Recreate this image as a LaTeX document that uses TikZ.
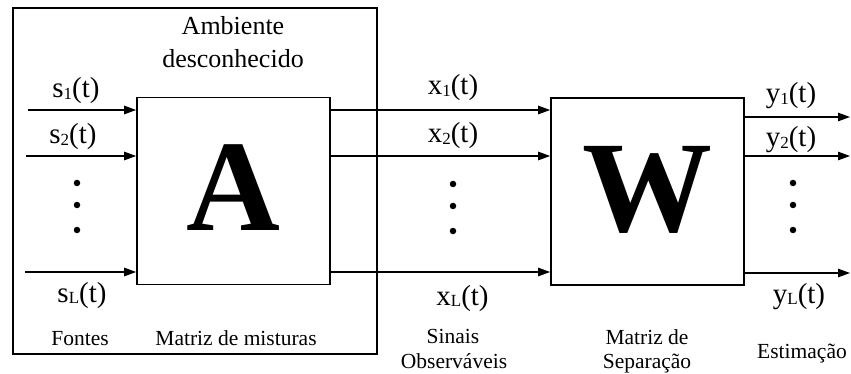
\documentclass[tikz,border=0pt]{standalone}
\usepackage{fontspec}
\setmainfont{Liberation Serif}
\usetikzlibrary{arrows.meta}
\newcommand{\sig}[2]{#1\raisebox{-1.5pt}{\fontsize{17}{17}\selectfont #2}(t)}
\tikzset{
  sigtxt/.style={anchor=base, inner sep=0pt, font=\fontsize{29}{29}\selectfont},
  lbltxt/.style={anchor=base, inner sep=0pt, font=\fontsize{21.5}{21.5}\selectfont},
  bigtxt/.style={anchor=base, inner sep=0pt, font=\fontsize{130}{130}\selectfont\bfseries},
  blk/.style={draw, line width=1.8pt},
  sigarrow/.style={line width=1.2pt, -{Triangle[length=12pt,width=8.5pt]}},
  sigline/.style={line width=1.2pt},
  dot/.style={circle, fill, inner sep=0pt, minimum size=6.5pt}
}
\begin{document}
\begin{tikzpicture}[x=1pt,y=-1pt]
\useasboundingbox (0,0) rectangle (851,374);
% outer environment box
\draw[line width=1.4pt] (13,8) rectangle (377,354);
% blocks
\node[blk, minimum width=193pt, minimum height=187pt, inner sep=0pt] (A) at (233.5,191) {};
\node[blk, minimum width=193pt, minimum height=187pt, inner sep=0pt] (W) at (647.5,191.5) {};
\node[bigtxt] (Aletter) at (233,230) {A};
\node[bigtxt] (Wletter) at (647,232) {W};
% input start points
\coordinate (s1s) at (28,110);
\coordinate (s2s) at (26,156);
\coordinate (sLs) at (25,272);
\draw[sigarrow] (s1s) -- (s1s -| A.west);
\draw[sigarrow] (s2s) -- (s2s -| A.west);
\draw[sigarrow] (sLs) -- (sLs -| A.west);
% A -> W
\coordinate (x1s) at (330,110);
\coordinate (x2s) at (330,156);
\coordinate (xLs) at (330,272);
\draw[sigarrow] (x1s -| A.east) -- (x1s -| W.west);
\draw[sigarrow] (x2s -| A.east) -- (x2s -| W.west);
\draw[sigarrow] (xLs -| A.east) -- (xLs -| W.west);
% outputs
\coordinate (y1e) at (850,117);
\coordinate (y2e) at (850,156);
\coordinate (yLe) at (850,273);
\draw[sigarrow] (y1e -| W.east) -- (y1e);
\draw[sigarrow] (y2e -| W.east) -- (y2e);
\draw[sigarrow] (yLe -| W.east) -- (yLe);
% signal labels
\node[sigtxt] (s1) at (76,98) {\sig{s}{1}};
\node[sigtxt] (s2) at (73,144) {\sig{s}{2}};
\node[sigtxt] (sL) at (82,302) {\sig{s}{L}};
\node[sigtxt] (x1) at (453,95) {\sig{x}{1}};
\node[sigtxt] (x2) at (453,143) {\sig{x}{2}};
\node[sigtxt] (xL) at (462.5,305) {\sig{x}{L}};
\node[sigtxt] (y1) at (791,103) {\sig{y}{1}};
\node[sigtxt] (y2) at (791,147) {\sig{y}{2}};
\node[sigtxt] (yL) at (799,303) {\sig{y}{L}};
% dots
\foreach \yy [count=\i] in {183,205,230} {
  \node[dot] (ds\i) at (77,\yy) {};
  \node[dot] (dx\i) at (453,\yy+1) {};
  \node[dot] (dy\i) at (793,\yy) {};
}
% text labels
\node[lbltxt, font=\fontsize{26}{26}\selectfont] (amb1) at (233,35) {Ambiente};
\node[lbltxt, font=\fontsize{26}{26}\selectfont] (amb2) at (233,68) {desconhecido};
\node[lbltxt] (fontes) at (80,345) {Fontes};
\node[lbltxt] (matmix) at (236,345) {Matriz de misturas};
\node[lbltxt] (sin1) at (453,343) {Sinais};
\node[lbltxt] (sin2) at (454,368) {Observáveis};
\node[lbltxt] (sep1) at (647,344) {Matriz de};
\node[lbltxt] (sep2) at (647,368) {Separação};
\node[lbltxt] (est) at (802,358) {Estimação};
\end{tikzpicture}
\end{document}
